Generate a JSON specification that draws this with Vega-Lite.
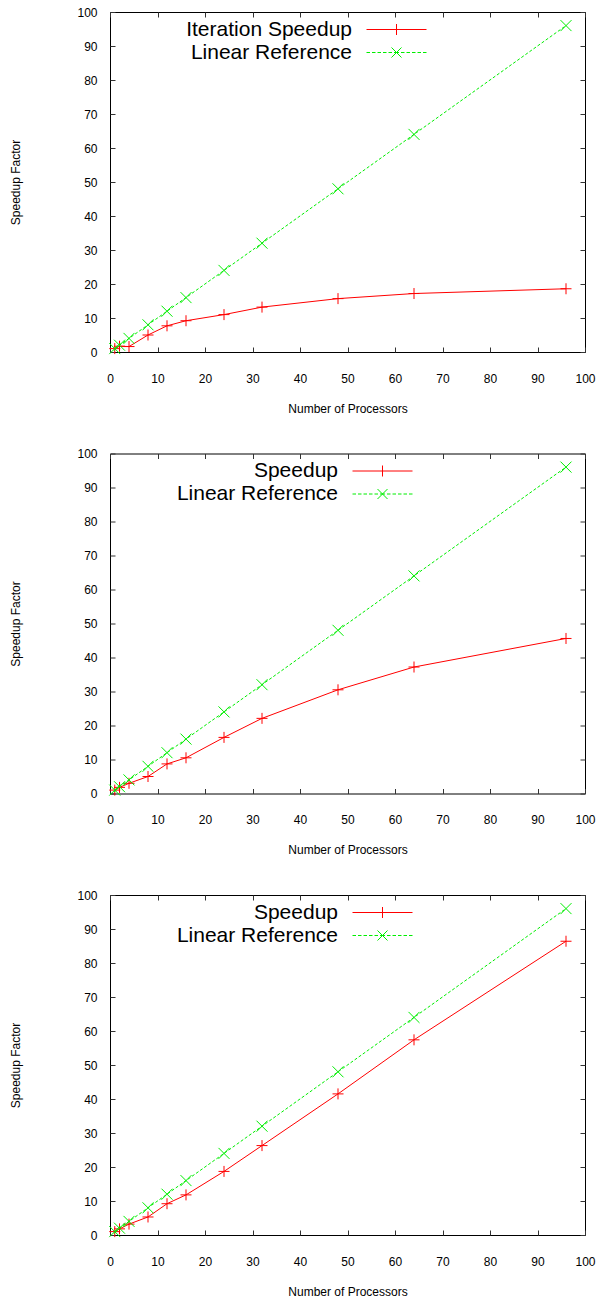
{
  "$schema": "https://vega.github.io/schema/vega-lite/v6.json",
  "padding": {"left": 9, "top": 5, "right": 0, "bottom": 0},
  "background": "white",
  "config": {
    "font": "Liberation Sans",
    "view": {"stroke": "#000000", "strokeWidth": 1},
    "axis": {"grid": false, "domain": false, "labelFont": "Liberation Sans", "titleFont": "Liberation Sans", "labelFontSize": 12, "titleFontSize": 12, "labelColor": "#000000", "titleColor": "#000000", "tickColor": "#333333", "titleFontWeight": "normal", "labelFlush": false, "labelOverlap": false},
    "legend": {"labelFont": "Liberation Sans", "orient": "none", "title": null, "padding": 0, "symbolSize": 400, "symbolStrokeWidth": 1, "labelFontSize": 21, "labelAlign": "right", "labelOffset": -55, "labelLimit": 400, "labelColor": "#000000", "rowPadding": 1, "symbolOpacity": 1, "symbolBaseStrokeColor": "#00ee00", "symbolBaseFillColor": "transparent"}
  },
  "datasets": {
    "d": [
      {"panel": 1, "series": "Iteration Speedup", "procs": 1, "speedup": 1},
      {"panel": 1, "series": "Iteration Speedup", "procs": 2, "speedup": 1.7},
      {"panel": 1, "series": "Iteration Speedup", "procs": 4, "speedup": 1.6},
      {"panel": 1, "series": "Iteration Speedup", "procs": 8, "speedup": 5},
      {"panel": 1, "series": "Iteration Speedup", "procs": 12, "speedup": 7.7},
      {"panel": 1, "series": "Iteration Speedup", "procs": 16, "speedup": 9.2},
      {"panel": 1, "series": "Iteration Speedup", "procs": 24, "speedup": 11},
      {"panel": 1, "series": "Iteration Speedup", "procs": 32, "speedup": 13.2},
      {"panel": 1, "series": "Iteration Speedup", "procs": 48, "speedup": 15.7},
      {"panel": 1, "series": "Iteration Speedup", "procs": 64, "speedup": 17.2},
      {"panel": 1, "series": "Iteration Speedup", "procs": 96, "speedup": 18.6},
      {"panel": 1, "series": "Linear Reference", "procs": 1, "speedup": 1},
      {"panel": 1, "series": "Linear Reference", "procs": 2, "speedup": 2},
      {"panel": 1, "series": "Linear Reference", "procs": 4, "speedup": 4},
      {"panel": 1, "series": "Linear Reference", "procs": 8, "speedup": 8},
      {"panel": 1, "series": "Linear Reference", "procs": 12, "speedup": 12},
      {"panel": 1, "series": "Linear Reference", "procs": 16, "speedup": 16},
      {"panel": 1, "series": "Linear Reference", "procs": 24, "speedup": 24},
      {"panel": 1, "series": "Linear Reference", "procs": 32, "speedup": 32},
      {"panel": 1, "series": "Linear Reference", "procs": 48, "speedup": 48},
      {"panel": 1, "series": "Linear Reference", "procs": 64, "speedup": 64},
      {"panel": 1, "series": "Linear Reference", "procs": 96, "speedup": 96},
      {"panel": 2, "series": "Speedup", "procs": 1, "speedup": 1},
      {"panel": 2, "series": "Speedup", "procs": 2, "speedup": 1.8},
      {"panel": 2, "series": "Speedup", "procs": 4, "speedup": 3},
      {"panel": 2, "series": "Speedup", "procs": 8, "speedup": 5},
      {"panel": 2, "series": "Speedup", "procs": 12, "speedup": 8.7},
      {"panel": 2, "series": "Speedup", "procs": 16, "speedup": 10.5},
      {"panel": 2, "series": "Speedup", "procs": 24, "speedup": 16.5},
      {"panel": 2, "series": "Speedup", "procs": 32, "speedup": 22.1},
      {"panel": 2, "series": "Speedup", "procs": 48, "speedup": 30.5},
      {"panel": 2, "series": "Speedup", "procs": 64, "speedup": 37.2},
      {"panel": 2, "series": "Speedup", "procs": 96, "speedup": 45.6},
      {"panel": 2, "series": "Linear Reference", "procs": 1, "speedup": 1},
      {"panel": 2, "series": "Linear Reference", "procs": 2, "speedup": 2},
      {"panel": 2, "series": "Linear Reference", "procs": 4, "speedup": 4},
      {"panel": 2, "series": "Linear Reference", "procs": 8, "speedup": 8},
      {"panel": 2, "series": "Linear Reference", "procs": 12, "speedup": 12},
      {"panel": 2, "series": "Linear Reference", "procs": 16, "speedup": 16},
      {"panel": 2, "series": "Linear Reference", "procs": 24, "speedup": 24},
      {"panel": 2, "series": "Linear Reference", "procs": 32, "speedup": 32},
      {"panel": 2, "series": "Linear Reference", "procs": 48, "speedup": 48},
      {"panel": 2, "series": "Linear Reference", "procs": 64, "speedup": 64},
      {"panel": 2, "series": "Linear Reference", "procs": 96, "speedup": 96},
      {"panel": 3, "series": "Speedup", "procs": 1, "speedup": 1},
      {"panel": 3, "series": "Speedup", "procs": 2, "speedup": 1.8},
      {"panel": 3, "series": "Speedup", "procs": 4, "speedup": 3.2},
      {"panel": 3, "series": "Speedup", "procs": 8, "speedup": 5.3},
      {"panel": 3, "series": "Speedup", "procs": 12, "speedup": 9.2},
      {"panel": 3, "series": "Speedup", "procs": 16, "speedup": 11.8},
      {"panel": 3, "series": "Speedup", "procs": 24, "speedup": 18.7},
      {"panel": 3, "series": "Speedup", "procs": 32, "speedup": 26.3},
      {"panel": 3, "series": "Speedup", "procs": 48, "speedup": 41.5},
      {"panel": 3, "series": "Speedup", "procs": 64, "speedup": 57.4},
      {"panel": 3, "series": "Speedup", "procs": 96, "speedup": 86.4},
      {"panel": 3, "series": "Linear Reference", "procs": 1, "speedup": 1},
      {"panel": 3, "series": "Linear Reference", "procs": 2, "speedup": 2},
      {"panel": 3, "series": "Linear Reference", "procs": 4, "speedup": 4},
      {"panel": 3, "series": "Linear Reference", "procs": 8, "speedup": 8},
      {"panel": 3, "series": "Linear Reference", "procs": 12, "speedup": 12},
      {"panel": 3, "series": "Linear Reference", "procs": 16, "speedup": 16},
      {"panel": 3, "series": "Linear Reference", "procs": 24, "speedup": 24},
      {"panel": 3, "series": "Linear Reference", "procs": 32, "speedup": 32},
      {"panel": 3, "series": "Linear Reference", "procs": 48, "speedup": 48},
      {"panel": 3, "series": "Linear Reference", "procs": 64, "speedup": 64},
      {"panel": 3, "series": "Linear Reference", "procs": 96, "speedup": 96}
    ]
  },
  "spacing": 31.5,
  "vconcat": [
    {
      "width": 475, "height": 340,
      "data": {"name": "d"},
      "transform": [{"filter": "datum.panel == 1"}],
      "layer": [
        {
          "transform": [{"filter": "datum.series != 'Linear Reference'"}],
          "mark": {"type": "line", "strokeWidth": 1, "color": "#ff0000"},
          "encoding": {
            "x": {"field": "procs", "type": "quantitative", "scale": {"domain": [0, 100], "nice": false}, "axis": {"orient": "bottom", "values": [0,10,20,30,40,50,60,70,80,90,100], "tickSize": -5, "labelPadding": 26, "title": "Number of Processors", "titlePadding": 19}},
            "y": {"field": "speedup", "type": "quantitative", "scale": {"domain": [0, 100], "nice": false}, "axis": {"orient": "left", "values": [0,10,20,30,40,50,60,70,80,90,100], "tickSize": -5, "labelPadding": 18, "title": "Speedup Factor", "titlePadding": 54}}
          }
        },
        {
          "transform": [{"filter": "datum.series != 'Linear Reference'"}],
          "mark": {"type": "point", "filled": false, "strokeWidth": 1, "size": 121, "opacity": 1, "color": "#ff0000", "shape": "M-1,0L1,0M0,-1L0,1"},
          "encoding": {
            "x": {"field": "procs", "type": "quantitative", "axis": null},
            "y": {"field": "speedup", "type": "quantitative", "axis": null}
          }
        },
        {
          "transform": [{"filter": "datum.series == 'Linear Reference'"}],
          "mark": {"type": "line", "strokeWidth": 1, "color": "#00ee00", "strokeDash": [3, 2]},
          "encoding": {
            "x": {"field": "procs", "type": "quantitative", "axis": {"orient": "top", "values": [0,10,20,30,40,50,60,70,80,90,100], "tickSize": -5, "labels": false, "title": null}},
            "y": {"field": "speedup", "type": "quantitative", "axis": {"orient": "right", "values": [0,10,20,30,40,50,60,70,80,90,100], "tickSize": -5, "labels": false, "title": null}}
          }
        },
        {
          "transform": [{"filter": "datum.series == 'Linear Reference'"}],
          "mark": {"type": "point", "filled": false, "strokeWidth": 1, "size": 121, "opacity": 1, "color": "#00ee00", "shape": "M-1,-1L1,1M-1,1L1,-1"},
          "encoding": {
            "x": {"field": "procs", "type": "quantitative", "axis": null},
            "y": {"field": "speedup", "type": "quantitative", "axis": null}
          }
        },
        {
          "mark": {"type": "point", "filled": false, "strokeWidth": 1, "size": 0},
          "encoding": {
            "x": {"field": "procs", "type": "quantitative", "axis": null},
            "y": {"field": "speedup", "type": "quantitative", "axis": null},
            "color": {"field": "series", "type": "nominal", "scale": {"domain": ["Iteration Speedup", "Speedup", "Linear Reference"], "range": ["#ff0000", "#ff0000", "#00ee00"]}, "legend": {"values": ["Iteration Speedup", "Linear Reference"], "legendX": 276, "legendY": 7}},
            "shape": {"field": "series", "type": "nominal", "scale": {"domain": ["Iteration Speedup", "Speedup", "Linear Reference"], "range": ["M-3,0L3,0M0,-0.55L0,0.55", "M-3,0L3,0M0,-0.55L0,0.55", "M-3,0L-2.65,0M-2.45,0L-2.1,0M-1.9,0L-1.55,0M-1.35,0L-1,0M-0.8,0L-0.45,0M-0.25,0L0.25,0M0.45,0L0.8,0M1,0L1.35,0M1.55,0L1.9,0M2.1,0L2.45,0M2.65,0L3,0M-0.5,-0.5L0.5,0.5M-0.5,0.5L0.5,-0.5"]}, "legend": {"values": ["Iteration Speedup", "Linear Reference"], "legendX": 276, "legendY": 7}}
          }
        }
      ],
      "resolve": {"axis": {"x": "independent", "y": "independent"}}
    },
    {
      "width": 475, "height": 340,
      "data": {"name": "d"},
      "transform": [{"filter": "datum.panel == 2"}],
      "layer": [
        {
          "transform": [{"filter": "datum.series != 'Linear Reference'"}],
          "mark": {"type": "line", "strokeWidth": 1, "color": "#ff0000"},
          "encoding": {
            "x": {"field": "procs", "type": "quantitative", "scale": {"domain": [0, 100], "nice": false}, "axis": {"orient": "bottom", "values": [0,10,20,30,40,50,60,70,80,90,100], "tickSize": -5, "labelPadding": 26, "title": "Number of Processors", "titlePadding": 19}},
            "y": {"field": "speedup", "type": "quantitative", "scale": {"domain": [0, 100], "nice": false}, "axis": {"orient": "left", "values": [0,10,20,30,40,50,60,70,80,90,100], "tickSize": -5, "labelPadding": 18, "title": "Speedup Factor", "titlePadding": 54}}
          }
        },
        {
          "transform": [{"filter": "datum.series != 'Linear Reference'"}],
          "mark": {"type": "point", "filled": false, "strokeWidth": 1, "size": 121, "opacity": 1, "color": "#ff0000", "shape": "M-1,0L1,0M0,-1L0,1"},
          "encoding": {
            "x": {"field": "procs", "type": "quantitative", "axis": null},
            "y": {"field": "speedup", "type": "quantitative", "axis": null}
          }
        },
        {
          "transform": [{"filter": "datum.series == 'Linear Reference'"}],
          "mark": {"type": "line", "strokeWidth": 1, "color": "#00ee00", "strokeDash": [3, 2]},
          "encoding": {
            "x": {"field": "procs", "type": "quantitative", "axis": {"orient": "top", "values": [0,10,20,30,40,50,60,70,80,90,100], "tickSize": -5, "labels": false, "title": null}},
            "y": {"field": "speedup", "type": "quantitative", "axis": {"orient": "right", "values": [0,10,20,30,40,50,60,70,80,90,100], "tickSize": -5, "labels": false, "title": null}}
          }
        },
        {
          "transform": [{"filter": "datum.series == 'Linear Reference'"}],
          "mark": {"type": "point", "filled": false, "strokeWidth": 1, "size": 121, "opacity": 1, "color": "#00ee00", "shape": "M-1,-1L1,1M-1,1L1,-1"},
          "encoding": {
            "x": {"field": "procs", "type": "quantitative", "axis": null},
            "y": {"field": "speedup", "type": "quantitative", "axis": null}
          }
        },
        {
          "mark": {"type": "point", "filled": false, "strokeWidth": 1, "size": 0},
          "encoding": {
            "x": {"field": "procs", "type": "quantitative", "axis": null},
            "y": {"field": "speedup", "type": "quantitative", "axis": null},
            "color": {"field": "series", "type": "nominal", "legend": {"values": ["Speedup", "Linear Reference"], "legendX": 262, "legendY": 7}},
            "shape": {"field": "series", "type": "nominal", "legend": {"values": ["Speedup", "Linear Reference"], "legendX": 262, "legendY": 7}}
          }
        }
      ],
      "resolve": {"axis": {"x": "independent", "y": "independent"}}
    },
    {
      "width": 475, "height": 340,
      "data": {"name": "d"},
      "transform": [{"filter": "datum.panel == 3"}],
      "layer": [
        {
          "transform": [{"filter": "datum.series != 'Linear Reference'"}],
          "mark": {"type": "line", "strokeWidth": 1, "color": "#ff0000"},
          "encoding": {
            "x": {"field": "procs", "type": "quantitative", "scale": {"domain": [0, 100], "nice": false}, "axis": {"orient": "bottom", "values": [0,10,20,30,40,50,60,70,80,90,100], "tickSize": -5, "labelPadding": 26, "title": "Number of Processors", "titlePadding": 19}},
            "y": {"field": "speedup", "type": "quantitative", "scale": {"domain": [0, 100], "nice": false}, "axis": {"orient": "left", "values": [0,10,20,30,40,50,60,70,80,90,100], "tickSize": -5, "labelPadding": 18, "title": "Speedup Factor", "titlePadding": 54}}
          }
        },
        {
          "transform": [{"filter": "datum.series != 'Linear Reference'"}],
          "mark": {"type": "point", "filled": false, "strokeWidth": 1, "size": 121, "opacity": 1, "color": "#ff0000", "shape": "M-1,0L1,0M0,-1L0,1"},
          "encoding": {
            "x": {"field": "procs", "type": "quantitative", "axis": null},
            "y": {"field": "speedup", "type": "quantitative", "axis": null}
          }
        },
        {
          "transform": [{"filter": "datum.series == 'Linear Reference'"}],
          "mark": {"type": "line", "strokeWidth": 1, "color": "#00ee00", "strokeDash": [3, 2]},
          "encoding": {
            "x": {"field": "procs", "type": "quantitative", "axis": {"orient": "top", "values": [0,10,20,30,40,50,60,70,80,90,100], "tickSize": -5, "labels": false, "title": null}},
            "y": {"field": "speedup", "type": "quantitative", "axis": {"orient": "right", "values": [0,10,20,30,40,50,60,70,80,90,100], "tickSize": -5, "labels": false, "title": null}}
          }
        },
        {
          "transform": [{"filter": "datum.series == 'Linear Reference'"}],
          "mark": {"type": "point", "filled": false, "strokeWidth": 1, "size": 121, "opacity": 1, "color": "#00ee00", "shape": "M-1,-1L1,1M-1,1L1,-1"},
          "encoding": {
            "x": {"field": "procs", "type": "quantitative", "axis": null},
            "y": {"field": "speedup", "type": "quantitative", "axis": null}
          }
        },
        {
          "mark": {"type": "point", "filled": false, "strokeWidth": 1, "size": 0},
          "encoding": {
            "x": {"field": "procs", "type": "quantitative", "axis": null},
            "y": {"field": "speedup", "type": "quantitative", "axis": null},
            "color": {"field": "series", "type": "nominal", "legend": {"values": ["Speedup", "Linear Reference"], "legendX": 262, "legendY": 7}},
            "shape": {"field": "series", "type": "nominal", "legend": {"values": ["Speedup", "Linear Reference"], "legendX": 262, "legendY": 7}}
          }
        }
      ],
      "resolve": {"axis": {"x": "independent", "y": "independent"}}
    }
  ],
  "resolve": {"scale": {"color": "shared", "shape": "shared"}, "legend": {"color": "independent", "shape": "independent"}}
}
